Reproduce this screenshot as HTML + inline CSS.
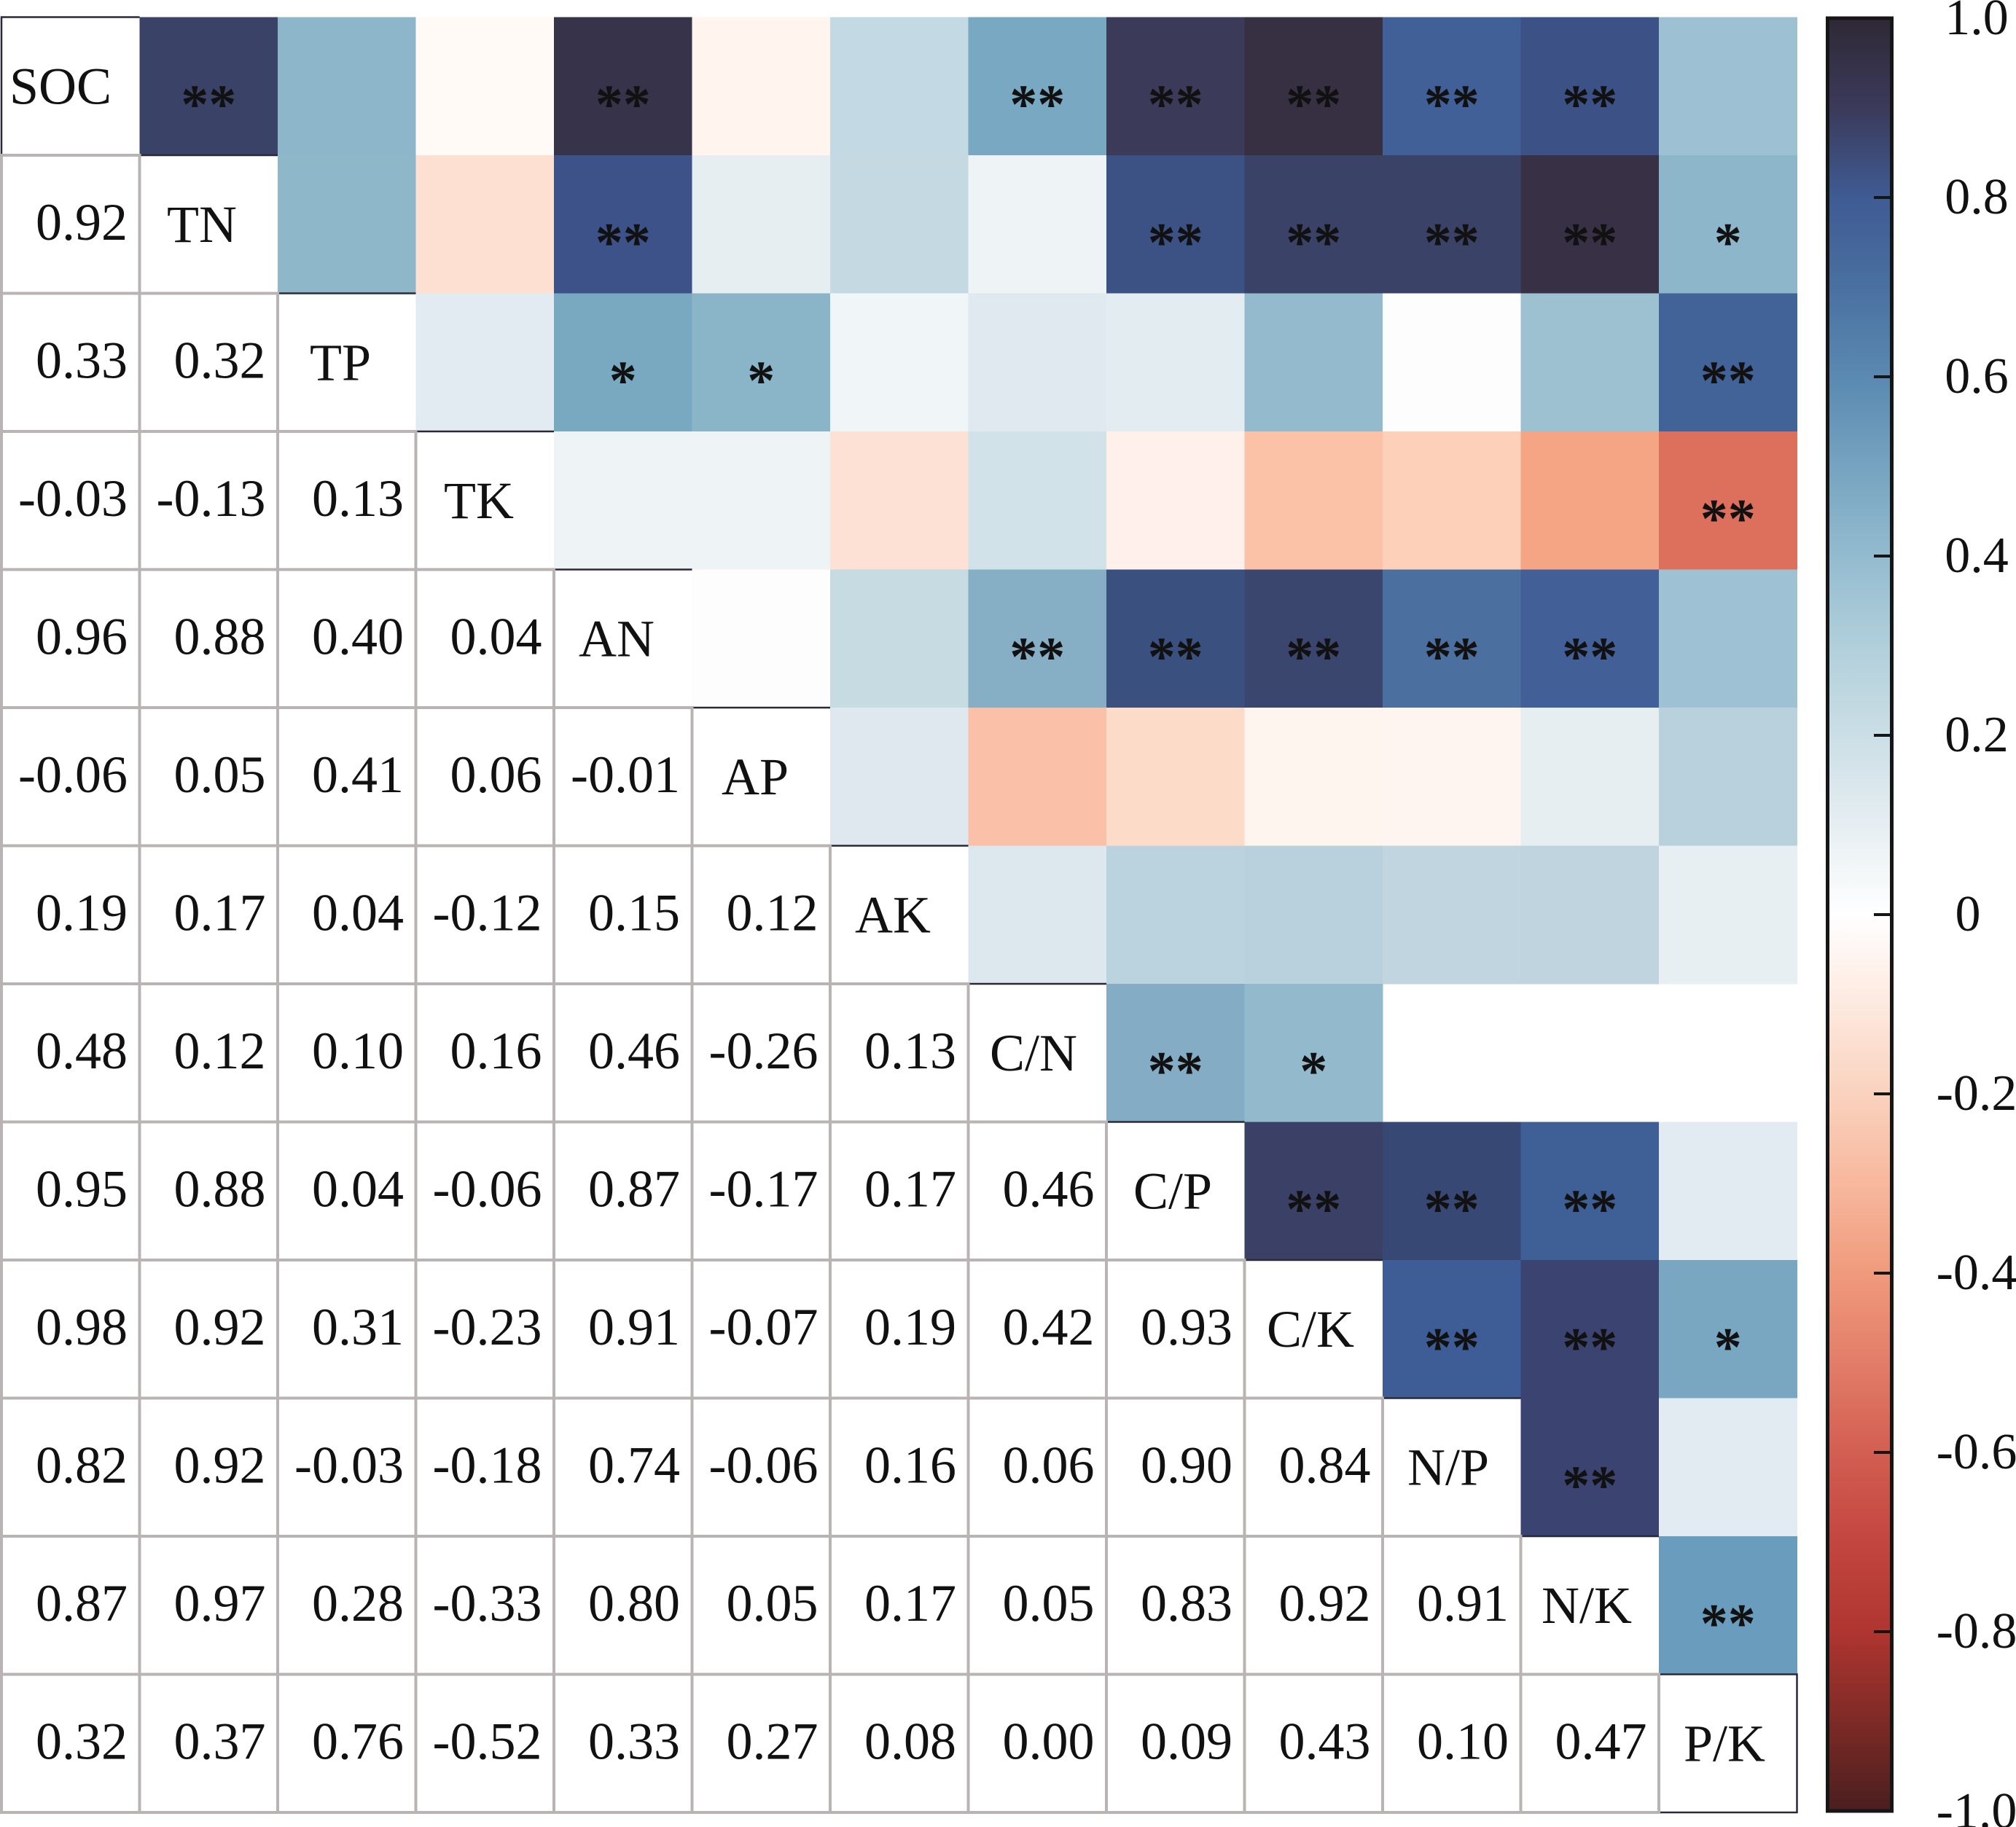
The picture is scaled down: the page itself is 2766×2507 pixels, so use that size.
<!DOCTYPE html>
<html><head><meta charset="utf-8"><style>
html,body{margin:0;padding:0;background:#fff;}
svg{display:block;}
text{font-family:"Liberation Serif","Times New Roman",serif;fill:#111;}
.n{font-size:72px;text-anchor:end;}
.l{font-size:72px;text-anchor:middle;}
.s{font-size:76px;font-weight:bold;text-anchor:middle;}
.c{font-size:70px;text-anchor:middle;}
</style></head><body>
<svg width="2766" height="2507" viewBox="0 0 2766 2507" xmlns="http://www.w3.org/2000/svg">
<defs>
<linearGradient id="g" x1="0" y1="0" x2="0" y2="1">
<stop offset="0" stop-color="#2e2936"/>
<stop offset="0.05" stop-color="#3b3a5a"/>
<stop offset="0.10" stop-color="#3f5b93"/>
<stop offset="0.15" stop-color="#4a70a1"/>
<stop offset="0.20" stop-color="#5a89b1"/>
<stop offset="0.25" stop-color="#76a3c0"/>
<stop offset="0.30" stop-color="#93bbcf"/>
<stop offset="0.35" stop-color="#b1cfdb"/>
<stop offset="0.40" stop-color="#cbdee6"/>
<stop offset="0.45" stop-color="#e6eef2"/>
<stop offset="0.50" stop-color="#ffffff"/>
<stop offset="0.55" stop-color="#fde9df"/>
<stop offset="0.60" stop-color="#fad2be"/>
<stop offset="0.65" stop-color="#f7b89e"/>
<stop offset="0.70" stop-color="#f09a7c"/>
<stop offset="0.75" stop-color="#e27d68"/>
<stop offset="0.80" stop-color="#d35e52"/>
<stop offset="0.85" stop-color="#c34640"/>
<stop offset="0.90" stop-color="#b03530"/>
<stop offset="0.95" stop-color="#7e2a26"/>
<stop offset="1" stop-color="#4a1f1f"/>
</linearGradient>
</defs>
<rect x="0" y="0" width="2766" height="2507" fill="#fff"/>

<!-- upper triangle colored cells -->
<g shape-rendering="crispEdges">
<!-- row 0 -->
<rect x="191.5" y="23.5" width="190" height="190" fill="#3b4268"/>
<rect x="381" y="23.5" width="190" height="190" fill="#8db6ca"/>
<rect x="570.5" y="23.5" width="190" height="190" fill="#fffaf6"/>
<rect x="760" y="23.5" width="190" height="190" fill="#36334a"/>
<rect x="949.5" y="23.5" width="190" height="190" fill="#fff4ee"/>
<rect x="1139" y="23.5" width="190" height="190" fill="#c3d9e3"/>
<rect x="1328.5" y="23.5" width="190" height="190" fill="#79a8c3"/>
<rect x="1518" y="23.5" width="190" height="190" fill="#3b3a58"/>
<rect x="1707.5" y="23.5" width="190" height="190" fill="#372f42"/>
<rect x="1897" y="23.5" width="190" height="190" fill="#416097"/>
<rect x="2086.5" y="23.5" width="190" height="190" fill="#3c5286"/>
<rect x="2276" y="23.5" width="190" height="190" fill="#9dc1d2"/>
<!-- row 1 -->
<rect x="381" y="213" width="190" height="190" fill="#8fb7ca"/>
<rect x="570.5" y="213" width="190" height="190" fill="#fde0d2"/>
<rect x="760" y="213" width="190" height="190" fill="#3c5288"/>
<rect x="949.5" y="213" width="190" height="190" fill="#e6eef2"/>
<rect x="1139" y="213" width="190" height="190" fill="#c4d9e2"/>
<rect x="1328.5" y="213" width="190" height="190" fill="#eef3f6"/>
<rect x="1518" y="213" width="190" height="190" fill="#3c5285"/>
<rect x="1707.5" y="213" width="190" height="190" fill="#3a4268"/>
<rect x="1897" y="213" width="190" height="190" fill="#3b4268"/>
<rect x="2086.5" y="213" width="190" height="190" fill="#383044"/>
<rect x="2276" y="213" width="190" height="190" fill="#8db6ca"/>
<!-- row 2 -->
<rect x="570.5" y="402.5" width="190" height="190" fill="#e1ebf1"/>
<rect x="760" y="402.5" width="190" height="190" fill="#79a8c1"/>
<rect x="949.5" y="402.5" width="190" height="190" fill="#8ab4c8"/>
<rect x="1139" y="402.5" width="190" height="190" fill="#f0f5f8"/>
<rect x="1328.5" y="402.5" width="190" height="190" fill="#e0e9ef"/>
<rect x="1518" y="402.5" width="190" height="190" fill="#e3edf1"/>
<rect x="1707.5" y="402.5" width="190" height="190" fill="#94bace"/>
<rect x="1897" y="402.5" width="190" height="190" fill="#fdfdfd"/>
<rect x="2086.5" y="402.5" width="190" height="190" fill="#9ec1d2"/>
<rect x="2276" y="402.5" width="190" height="190" fill="#426398"/>
<!-- row 3 -->
<rect x="760" y="592" width="190" height="190" fill="#eef3f6"/>
<rect x="949.5" y="592" width="190" height="190" fill="#eef3f6"/>
<rect x="1139" y="592" width="190" height="190" fill="#fee1d5"/>
<rect x="1328.5" y="592" width="190" height="190" fill="#d2e2e9"/>
<rect x="1518" y="592" width="190" height="190" fill="#fff0eb"/>
<rect x="1707.5" y="592" width="190" height="190" fill="#fbc2a8"/>
<rect x="1897" y="592" width="190" height="190" fill="#fcd0b9"/>
<rect x="2086.5" y="592" width="190" height="190" fill="#f5a484"/>
<rect x="2276" y="592" width="190" height="190" fill="#dc705c"/>
<!-- row 4 -->
<rect x="949.5" y="781.5" width="190" height="190" fill="#fdfdfd"/>
<rect x="1139" y="781.5" width="190" height="190" fill="#c6dbe2"/>
<rect x="1328.5" y="781.5" width="190" height="190" fill="#86afc5"/>
<rect x="1518" y="781.5" width="190" height="190" fill="#3a517f"/>
<rect x="1707.5" y="781.5" width="190" height="190" fill="#3b466f"/>
<rect x="1897" y="781.5" width="190" height="190" fill="#4b6f9f"/>
<rect x="2086.5" y="781.5" width="190" height="190" fill="#426097"/>
<rect x="2276" y="781.5" width="190" height="190" fill="#9ec2d3"/>
<!-- row 5 -->
<rect x="1139" y="971" width="190" height="190" fill="#dfe8ef"/>
<rect x="1328.5" y="971" width="190" height="190" fill="#fbc1a8"/>
<rect x="1518" y="971" width="190" height="190" fill="#fddbc9"/>
<rect x="1707.5" y="971" width="190" height="190" fill="#fff5ef"/>
<rect x="1897" y="971" width="190" height="190" fill="#fff5f0"/>
<rect x="2086.5" y="971" width="190" height="190" fill="#e6eef2"/>
<rect x="2276" y="971" width="190" height="190" fill="#b8d1dc"/>
<!-- row 6 -->
<rect x="1328.5" y="1160.5" width="190" height="190" fill="#dde7ee"/>
<rect x="1518" y="1160.5" width="190" height="190" fill="#bbd3de"/>
<rect x="1707.5" y="1160.5" width="190" height="190" fill="#b8d1dc"/>
<rect x="1897" y="1160.5" width="190" height="190" fill="#c0d5df"/>
<rect x="2086.5" y="1160.5" width="190" height="190" fill="#c0d4df"/>
<rect x="2276" y="1160.5" width="190" height="190" fill="#e8eff3"/>
<!-- row 7 -->
<rect x="1518" y="1350" width="190" height="190" fill="#84adc5"/>
<rect x="1707.5" y="1350" width="190" height="190" fill="#92b9cc"/>
<!-- row 8 -->
<rect x="1707.5" y="1539.5" width="190" height="190" fill="#3b4066"/>
<rect x="1897" y="1539.5" width="190" height="190" fill="#374874"/>
<rect x="2086.5" y="1539.5" width="190" height="190" fill="#3f5f97"/>
<rect x="2276" y="1539.5" width="190" height="190" fill="#e1ebf1"/>
<!-- row 9 -->
<rect x="1897" y="1729" width="190" height="190" fill="#3e5d97"/>
<rect x="2086.5" y="1729" width="190" height="190" fill="#3b4470"/>
<rect x="2276" y="1729" width="190" height="190" fill="#79a7c2"/>
<!-- row 10 -->
<rect x="2086.5" y="1918.5" width="190" height="190" fill="#3b4470"/>
<rect x="2276" y="1918.5" width="190" height="190" fill="#e1ebf1"/>
<!-- row 11 -->
<rect x="2276" y="2108" width="190" height="189.5" fill="#6a9dbd"/>
</g>

<!-- diagonal cells: white fill, dark top edge -->
<g fill="#fff">
<rect x="2" y="23.5" width="189.5" height="189.5"/>
<rect x="191.5" y="213" width="189.5" height="189.5"/>
<rect x="381" y="402.5" width="189.5" height="189.5"/>
<rect x="570.5" y="592" width="189.5" height="189.5"/>
<rect x="760" y="781.5" width="189.5" height="189.5"/>
<rect x="949.5" y="971" width="189.5" height="189.5"/>
<rect x="1139" y="1160.5" width="189.5" height="189.5"/>
<rect x="1328.5" y="1350" width="189.5" height="189.5"/>
<rect x="1518" y="1539.5" width="189.5" height="189.5"/>
<rect x="1707.5" y="1729" width="189.5" height="189.5"/>
<rect x="1897" y="1918.5" width="189.5" height="189.5"/>
<rect x="2086.5" y="2108" width="189.5" height="189.5"/>
<rect x="2276" y="2297.5" width="189.5" height="189.5"/>
</g>
<g stroke="#2b2838" stroke-width="2.5" fill="none">
<line x1="1" y1="23.5" x2="191.5" y2="23.5"/>
<line x1="2" y1="22.5" x2="2" y2="213"/>
<line x1="191.5" y1="213" x2="381" y2="213"/>
<line x1="381" y1="402.5" x2="570.5" y2="402.5"/>
<line x1="570.5" y1="592" x2="760" y2="592"/>
<line x1="760" y1="781.5" x2="949.5" y2="781.5"/>
<line x1="949.5" y1="971" x2="1139" y2="971"/>
<line x1="1139" y1="1160.5" x2="1328.5" y2="1160.5"/>
<line x1="1328.5" y1="1350" x2="1518" y2="1350"/>
<line x1="1518" y1="1539.5" x2="1707.5" y2="1539.5"/>
<line x1="1707.5" y1="1729" x2="1897" y2="1729"/>
<line x1="1897" y1="1918.5" x2="2086.5" y2="1918.5"/>
<line x1="2086.5" y1="2108" x2="2276" y2="2108"/>
<rect x="2276" y="2297.5" width="189.5" height="189.5"/>
</g>

<!-- lower triangle cells (gray borders) -->
<g fill="#fff" stroke="#b9b4b3" stroke-width="4">
<rect x="2" y="213" width="189.5" height="189.5"/>
<rect x="2" y="402.5" width="189.5" height="189.5"/><rect x="191.5" y="402.5" width="189.5" height="189.5"/>
<rect x="2" y="592" width="189.5" height="189.5"/><rect x="191.5" y="592" width="189.5" height="189.5"/><rect x="381" y="592" width="189.5" height="189.5"/>
<rect x="2" y="781.5" width="189.5" height="189.5"/><rect x="191.5" y="781.5" width="189.5" height="189.5"/><rect x="381" y="781.5" width="189.5" height="189.5"/><rect x="570.5" y="781.5" width="189.5" height="189.5"/>
<rect x="2" y="971" width="189.5" height="189.5"/><rect x="191.5" y="971" width="189.5" height="189.5"/><rect x="381" y="971" width="189.5" height="189.5"/><rect x="570.5" y="971" width="189.5" height="189.5"/><rect x="760" y="971" width="189.5" height="189.5"/>
<rect x="2" y="1160.5" width="189.5" height="189.5"/><rect x="191.5" y="1160.5" width="189.5" height="189.5"/><rect x="381" y="1160.5" width="189.5" height="189.5"/><rect x="570.5" y="1160.5" width="189.5" height="189.5"/><rect x="760" y="1160.5" width="189.5" height="189.5"/><rect x="949.5" y="1160.5" width="189.5" height="189.5"/>
<rect x="2" y="1350" width="189.5" height="189.5"/><rect x="191.5" y="1350" width="189.5" height="189.5"/><rect x="381" y="1350" width="189.5" height="189.5"/><rect x="570.5" y="1350" width="189.5" height="189.5"/><rect x="760" y="1350" width="189.5" height="189.5"/><rect x="949.5" y="1350" width="189.5" height="189.5"/><rect x="1139" y="1350" width="189.5" height="189.5"/>
<rect x="2" y="1539.5" width="189.5" height="189.5"/><rect x="191.5" y="1539.5" width="189.5" height="189.5"/><rect x="381" y="1539.5" width="189.5" height="189.5"/><rect x="570.5" y="1539.5" width="189.5" height="189.5"/><rect x="760" y="1539.5" width="189.5" height="189.5"/><rect x="949.5" y="1539.5" width="189.5" height="189.5"/><rect x="1139" y="1539.5" width="189.5" height="189.5"/><rect x="1328.5" y="1539.5" width="189.5" height="189.5"/>
<rect x="2" y="1729" width="189.5" height="189.5"/><rect x="191.5" y="1729" width="189.5" height="189.5"/><rect x="381" y="1729" width="189.5" height="189.5"/><rect x="570.5" y="1729" width="189.5" height="189.5"/><rect x="760" y="1729" width="189.5" height="189.5"/><rect x="949.5" y="1729" width="189.5" height="189.5"/><rect x="1139" y="1729" width="189.5" height="189.5"/><rect x="1328.5" y="1729" width="189.5" height="189.5"/><rect x="1518" y="1729" width="189.5" height="189.5"/>
<rect x="2" y="1918.5" width="189.5" height="189.5"/><rect x="191.5" y="1918.5" width="189.5" height="189.5"/><rect x="381" y="1918.5" width="189.5" height="189.5"/><rect x="570.5" y="1918.5" width="189.5" height="189.5"/><rect x="760" y="1918.5" width="189.5" height="189.5"/><rect x="949.5" y="1918.5" width="189.5" height="189.5"/><rect x="1139" y="1918.5" width="189.5" height="189.5"/><rect x="1328.5" y="1918.5" width="189.5" height="189.5"/><rect x="1518" y="1918.5" width="189.5" height="189.5"/><rect x="1707.5" y="1918.5" width="189.5" height="189.5"/>
<rect x="2" y="2108" width="189.5" height="189.5"/><rect x="191.5" y="2108" width="189.5" height="189.5"/><rect x="381" y="2108" width="189.5" height="189.5"/><rect x="570.5" y="2108" width="189.5" height="189.5"/><rect x="760" y="2108" width="189.5" height="189.5"/><rect x="949.5" y="2108" width="189.5" height="189.5"/><rect x="1139" y="2108" width="189.5" height="189.5"/><rect x="1328.5" y="2108" width="189.5" height="189.5"/><rect x="1518" y="2108" width="189.5" height="189.5"/><rect x="1707.5" y="2108" width="189.5" height="189.5"/><rect x="1897" y="2108" width="189.5" height="189.5"/>
<rect x="2" y="2297.5" width="189.5" height="189.5"/><rect x="191.5" y="2297.5" width="189.5" height="189.5"/><rect x="381" y="2297.5" width="189.5" height="189.5"/><rect x="570.5" y="2297.5" width="189.5" height="189.5"/><rect x="760" y="2297.5" width="189.5" height="189.5"/><rect x="949.5" y="2297.5" width="189.5" height="189.5"/><rect x="1139" y="2297.5" width="189.5" height="189.5"/><rect x="1328.5" y="2297.5" width="189.5" height="189.5"/><rect x="1518" y="2297.5" width="189.5" height="189.5"/><rect x="1707.5" y="2297.5" width="189.5" height="189.5"/><rect x="1897" y="2297.5" width="189.5" height="189.5"/><rect x="2086.5" y="2297.5" width="189.5" height="189.5"/>
</g>

<!-- diagonal labels -->
<text class="l" x="83" y="142.25">SOC</text>
<text class="l" x="277" y="331.75">TN</text>
<text class="l" x="467" y="521.25">TP</text>
<text class="l" x="657" y="710.75">TK</text>
<text class="l" x="846" y="900.25">AN</text>
<text class="l" x="1036" y="1089.75">AP</text>
<text class="l" x="1225" y="1279.25">AK</text>
<text class="l" x="1418" y="1468.75">C/N</text>
<text class="l" x="1609" y="1658.25">C/P</text>
<text class="l" x="1798" y="1847.75">C/K</text>
<text class="l" x="1987" y="2037.25">N/P</text>
<text class="l" x="2177" y="2226.75">N/K</text>
<text class="l" x="2366" y="2416.25">P/K</text>

<!-- lower triangle numbers -->
<text class="n" x="175" y="328.75">0.92</text>

<text class="n" x="175" y="518.25">0.33</text><text class="n" x="364.5" y="518.25">0.32</text>

<text class="n" x="175" y="707.75">-0.03</text><text class="n" x="364.5" y="707.75">-0.13</text><text class="n" x="554" y="707.75">0.13</text>

<text class="n" x="175" y="897.25">0.96</text><text class="n" x="364.5" y="897.25">0.88</text><text class="n" x="554" y="897.25">0.40</text><text class="n" x="743.5" y="897.25">0.04</text>

<text class="n" x="175" y="1086.75">-0.06</text><text class="n" x="364.5" y="1086.75">0.05</text><text class="n" x="554" y="1086.75">0.41</text><text class="n" x="743.5" y="1086.75">0.06</text><text class="n" x="933" y="1086.75">-0.01</text>

<text class="n" x="175" y="1276.25">0.19</text><text class="n" x="364.5" y="1276.25">0.17</text><text class="n" x="554" y="1276.25">0.04</text><text class="n" x="743.5" y="1276.25">-0.12</text><text class="n" x="933" y="1276.25">0.15</text><text class="n" x="1122.5" y="1276.25">0.12</text>

<text class="n" x="175" y="1465.75">0.48</text><text class="n" x="364.5" y="1465.75">0.12</text><text class="n" x="554" y="1465.75">0.10</text><text class="n" x="743.5" y="1465.75">0.16</text><text class="n" x="933" y="1465.75">0.46</text><text class="n" x="1122.5" y="1465.75">-0.26</text><text class="n" x="1312" y="1465.75">0.13</text>

<text class="n" x="175" y="1655.25">0.95</text><text class="n" x="364.5" y="1655.25">0.88</text><text class="n" x="554" y="1655.25">0.04</text><text class="n" x="743.5" y="1655.25">-0.06</text><text class="n" x="933" y="1655.25">0.87</text><text class="n" x="1122.5" y="1655.25">-0.17</text><text class="n" x="1312" y="1655.25">0.17</text><text class="n" x="1501.5" y="1655.25">0.46</text>

<text class="n" x="175" y="1844.75">0.98</text><text class="n" x="364.5" y="1844.75">0.92</text><text class="n" x="554" y="1844.75">0.31</text><text class="n" x="743.5" y="1844.75">-0.23</text><text class="n" x="933" y="1844.75">0.91</text><text class="n" x="1122.5" y="1844.75">-0.07</text><text class="n" x="1312" y="1844.75">0.19</text><text class="n" x="1501.5" y="1844.75">0.42</text><text class="n" x="1691" y="1844.75">0.93</text>

<text class="n" x="175" y="2034.25">0.82</text><text class="n" x="364.5" y="2034.25">0.92</text><text class="n" x="554" y="2034.25">-0.03</text><text class="n" x="743.5" y="2034.25">-0.18</text><text class="n" x="933" y="2034.25">0.74</text><text class="n" x="1122.5" y="2034.25">-0.06</text><text class="n" x="1312" y="2034.25">0.16</text><text class="n" x="1501.5" y="2034.25">0.06</text><text class="n" x="1691" y="2034.25">0.90</text><text class="n" x="1880.5" y="2034.25">0.84</text>

<text class="n" x="175" y="2223.75">0.87</text><text class="n" x="364.5" y="2223.75">0.97</text><text class="n" x="554" y="2223.75">0.28</text><text class="n" x="743.5" y="2223.75">-0.33</text><text class="n" x="933" y="2223.75">0.80</text><text class="n" x="1122.5" y="2223.75">0.05</text><text class="n" x="1312" y="2223.75">0.17</text><text class="n" x="1501.5" y="2223.75">0.05</text><text class="n" x="1691" y="2223.75">0.83</text><text class="n" x="1880.5" y="2223.75">0.92</text><text class="n" x="2070" y="2223.75">0.91</text>

<text class="n" x="175" y="2413.25">0.32</text><text class="n" x="364.5" y="2413.25">0.37</text><text class="n" x="554" y="2413.25">0.76</text><text class="n" x="743.5" y="2413.25">-0.52</text><text class="n" x="933" y="2413.25">0.33</text><text class="n" x="1122.5" y="2413.25">0.27</text><text class="n" x="1312" y="2413.25">0.08</text><text class="n" x="1501.5" y="2413.25">0.00</text><text class="n" x="1691" y="2413.25">0.09</text><text class="n" x="1880.5" y="2413.25">0.43</text><text class="n" x="2070" y="2413.25">0.10</text><text class="n" x="2259.5" y="2413.25">0.47</text>

<!-- significance stars -->
<text class="s" x="286.25" y="168.25">**</text>
<text class="s" x="854.75" y="168.25">**</text>
<text class="s" x="1423.25" y="168.25">**</text>
<text class="s" x="1612.75" y="168.25">**</text>
<text class="s" x="1802.25" y="168.25">**</text>
<text class="s" x="1991.75" y="168.25">**</text>
<text class="s" x="2181.25" y="168.25">**</text>

<text class="s" x="854.75" y="357.75">**</text>
<text class="s" x="1612.75" y="357.75">**</text>
<text class="s" x="1802.25" y="357.75">**</text>
<text class="s" x="1991.75" y="357.75">**</text>
<text class="s" x="2181.25" y="357.75">**</text>
<text class="s" x="2370.75" y="357.75">*</text>

<text class="s" x="854.75" y="547.25">*</text>
<text class="s" x="1044.25" y="547.25">*</text>
<text class="s" x="2370.75" y="547.25">**</text>

<text class="s" x="2370.75" y="736.75">**</text>

<text class="s" x="1423.25" y="926.25">**</text>
<text class="s" x="1612.75" y="926.25">**</text>
<text class="s" x="1802.25" y="926.25">**</text>
<text class="s" x="1991.75" y="926.25">**</text>
<text class="s" x="2181.25" y="926.25">**</text>

<text class="s" x="1612.75" y="1494.75">**</text>
<text class="s" x="1802.25" y="1494.75">*</text>

<text class="s" x="1802.25" y="1684.25">**</text>
<text class="s" x="1991.75" y="1684.25">**</text>
<text class="s" x="2181.25" y="1684.25">**</text>

<text class="s" x="1991.75" y="1873.75">**</text>
<text class="s" x="2181.25" y="1873.75">**</text>
<text class="s" x="2370.75" y="1873.75">*</text>

<text class="s" x="2181.25" y="2063.25">**</text>

<text class="s" x="2370.75" y="2252.75">**</text>

<!-- colorbar -->
<rect x="2507.5" y="25" width="88" height="2460" fill="url(#g)" stroke="#161616" stroke-width="5"/>
<g stroke="#161616" stroke-width="4">
<line x1="2571" y1="271" x2="2594" y2="271"/>
<line x1="2571" y1="517" x2="2594" y2="517"/>
<line x1="2571" y1="763" x2="2594" y2="763"/>
<line x1="2571" y1="1009" x2="2594" y2="1009"/>
<line x1="2571" y1="1255" x2="2594" y2="1255"/>
<line x1="2571" y1="1501" x2="2594" y2="1501"/>
<line x1="2571" y1="1747" x2="2594" y2="1747"/>
<line x1="2571" y1="1993" x2="2594" y2="1993"/>
<line x1="2571" y1="2239" x2="2594" y2="2239"/>
</g>
<text class="c" x="2712" y="47">1.0</text>
<text class="c" x="2712" y="293">0.8</text>
<text class="c" x="2712" y="539">0.6</text>
<text class="c" x="2712" y="785">0.4</text>
<text class="c" x="2712" y="1031">0.2</text>
<text class="c" x="2700" y="1277">0</text>
<text class="c" x="2712" y="1523">-0.2</text>
<text class="c" x="2712" y="1769">-0.4</text>
<text class="c" x="2712" y="2015">-0.6</text>
<text class="c" x="2712" y="2261">-0.8</text>
<text class="c" x="2712" y="2508">-1.0</text>
</svg>
</body></html>
